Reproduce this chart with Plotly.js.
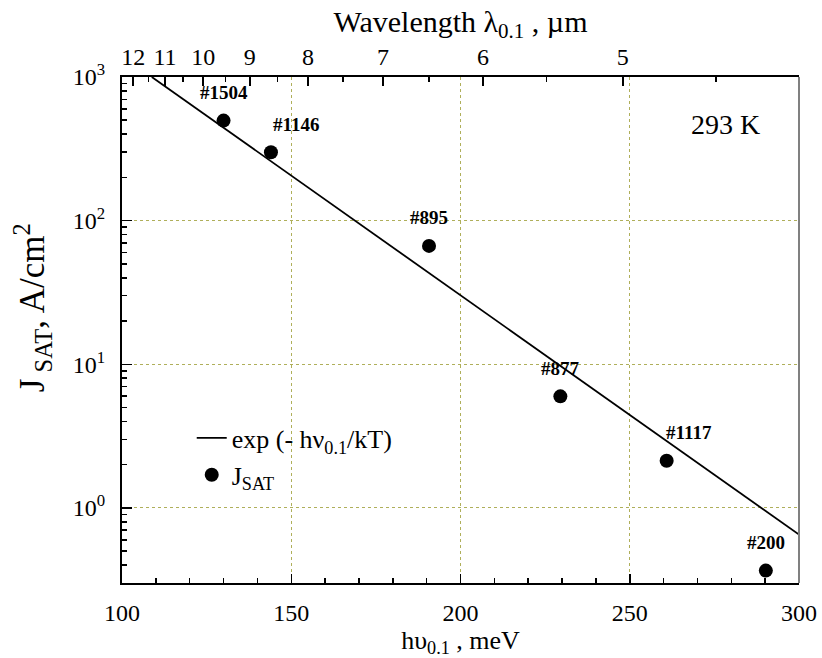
<!DOCTYPE html>
<html>
<head>
<meta charset="utf-8">
<script src="https://cdn.plot.ly/plotly-3.0.1.min.js"></script>
<style>html,body{margin:0;padding:0;background:#fff;}#chart{width:822px;height:658px;}</style>
</head>
<body>
<div id="chart"></div>
<script>
// ---- data ----
var photonEnergy = [130.0, 144.0, 190.7, 229.5, 260.9, 290.2];   // hυ0.1, meV
var jSat = [497, 299, 66.7, 5.98, 2.13, 0.366];                    // J_SAT, A/cm^2
var sampleLabels = ['#1504', '#1146', '#895', '#877', '#1117', '#200'];
var fitEnergy = [108.8, 300];                                       // exp(-hν/kT) line ends
var fitJ = [1000, 0.652];
var wavelengthTicks = [12, 11, 10, 9, 8, 7, 6, 5];                  // µm, top axis labels
var wavelengthMinor = [11.5, 10.5, 9.5, 8.5, 7.5, 6.5, 5.5, 4.5];
var yTickVals = [1, 10, 100, 1000];
var yTickText = ['10<sup>0</sup>', '10<sup>1</sup>', '10<sup>2</sup>', '10<sup>3</sup>'];

// ---- layout helpers ----
var HC = 1239.84; // meV·µm conversion for the top axis
var labelDx = [0, 25, 0, 0, 22, 0];
var yMinor = [];
[0.1, 1, 10, 100].forEach(function (d) { for (var k = 2; k <= 9; k++) yMinor.push(k * d); });
var serif = '"Liberation Serif", "Times New Roman", Times, serif';
var gridCol = 'rgb(175,175,90)';

var traces = [
  {
    x: fitEnergy, y: fitJ, mode: 'lines', type: 'scatter',
    name: 'exp (- hν<sub>0.1</sub>/kT)', legendgroup: 'fit',
    line: {color: '#000', width: 1.8},
    hoverinfo: 'skip'
  },
  {
    x: photonEnergy, y: jSat, mode: 'markers', type: 'scatter',
    name: 'J<sub>SAT</sub>', legendgroup: 'data',
    marker: {color: '#000', size: 14},
    cliponaxis: false
  },
  {
    x: photonEnergy, y: jSat, xaxis: 'x2', mode: 'markers', type: 'scatter',
    marker: {opacity: 0}, showlegend: false, hoverinfo: 'skip'
  }
];

var annotations = sampleLabels.map(function (t, i) {
  return {
    x: photonEnergy[i], y: Math.log10(jSat[i]), xref: 'x', yref: 'y',
    text: '<b>' + t + '</b>', showarrow: false,
    xshift: labelDx[i], yshift: 28,
    font: {family: serif, size: 19, color: '#000'}
  };
});
annotations.push({
  xref: 'paper', yref: 'paper', x: 0.891, y: 0.907, xanchor: 'center', yanchor: 'middle',
  text: '293 K', showarrow: false,
  font: {family: serif, size: 28, color: '#000'}
});
annotations.push({
  xref: 'paper', yref: 'paper', x: -0.133, y: 0.545, xanchor: 'center', yanchor: 'middle',
  textangle: -90, text: 'J<sub> SAT</sub>, A/cm<sup>2</sup>', showarrow: false,
  font: {family: serif, size: 35, color: '#000'}
});

var layout = {
  width: 822, height: 658,
  margin: {l: 122, r: 23, t: 77, b: 75},
  paper_bgcolor: '#fff', plot_bgcolor: '#fff',
  font: {family: serif, color: '#000', size: 24},
  showlegend: true,
  legend: {
    x: 0.103, y: 0.333, xanchor: 'left', yanchor: 'top',
    bgcolor: 'rgba(0,0,0,0)', borderwidth: 0,
    font: {family: serif, size: 26, color: '#000'},
    itemwidth: 30, traceorder: 'normal', tracegroupgap: 2
  },
  xaxis: {
    range: [100, 300], tickvals: [100, 150, 200, 250, 300],
    ticks: 'inside', ticklen: 9, tickwidth: 1.5, tickcolor: '#000',
    minor: {tickvals: [110, 120, 130, 140, 160, 170, 180, 190, 210, 220, 230, 240, 260, 270, 280, 290],
            ticks: 'inside', ticklen: 5, tickwidth: 1.5, tickcolor: '#000', showgrid: false},
    showline: true, linecolor: '#000', linewidth: 2, mirror: false,
    showgrid: true, gridcolor: gridCol, griddash: 'dot', gridwidth: 1,
    zeroline: false, ticklabelstandoff: 7,
    tickfont: {family: serif, size: 24},
    title: {text: 'hυ<sub>0.1</sub> , meV', font: {family: serif, size: 26}, standoff: 5}
  },
  xaxis2: {
    overlaying: 'x', side: 'top', anchor: 'y', range: [100, 300],
    tickmode: 'array',
    tickvals: wavelengthTicks.map(function (l) { return HC / l; }),
    ticktext: wavelengthTicks.map(String),
    ticks: 'inside', ticklen: 9, tickwidth: 1.5, tickcolor: '#000',
    minor: {tickvals: wavelengthMinor.map(function (l) { return HC / l; }),
            ticks: 'inside', ticklen: 5, tickwidth: 1.5, tickcolor: '#000', showgrid: false},
    showline: true, linecolor: '#000', linewidth: 2,
    showgrid: false, zeroline: false, ticklabelstandoff: 0,
    tickfont: {family: serif, size: 24},
    title: {text: 'Wavelength λ<sub>0.1</sub> , µm', font: {family: serif, size: 30}, standoff: 3}
  },
  yaxis: {
    type: 'log', range: [Math.log10(0.3), 3],
    tickmode: 'array', tickvals: yTickVals, ticktext: yTickText,
    ticks: 'inside', ticklen: 10, tickwidth: 1.5, tickcolor: '#000',
    minor: {tickvals: yMinor, ticks: 'inside', ticklen: 5, tickwidth: 1.5, tickcolor: '#000', showgrid: false},
    showline: true, linecolor: '#000', linewidth: 2, mirror: false,
    showgrid: true, gridcolor: gridCol, griddash: 'dot', gridwidth: 1,
    zeroline: false, ticklabelstandoff: 10,
    tickfont: {family: serif, size: 24}
  },
  shapes: [
    {type: 'line', xref: 'paper', yref: 'paper', x0: 1, x1: 1, y0: 0, y1: 1,
     line: {color: '#808080', width: 2}}
  ],
  annotations: annotations
};

Plotly.newPlot('chart', traces, layout, {displayModeBar: false, staticPlot: true});
</script>
</body>
</html>
